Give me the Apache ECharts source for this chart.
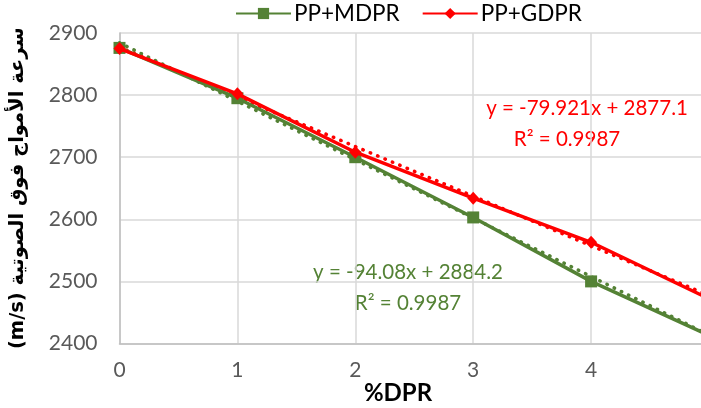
<!DOCTYPE html>
<html>
<head>
<meta charset="utf-8">
<style>
  html, body { margin: 0; padding: 0; background: #ffffff; overflow: hidden; }
  #chart { width: 722px; height: 408px; }
</style>
<script src="https://cdn.jsdelivr.net/npm/echarts@6/dist/echarts.min.js"></script>
</head>
<body>
<div id="chart"></div>
<script>
// Ultrasonic pulse velocity against DPR content for the two mixes
const dprLevels = [0, 1, 2, 3, 4, 5];
const mdprVelocity = [2876, 2795, 2700, 2603, 2500, 2413];
const gdprVelocity = [2875, 2802, 2708, 2634, 2563, 2472];

// Linear trendline coefficients [slope, intercept] and R²
const mdprTrend = [-94.08, 2884.2];
const gdprTrend = [-79.921, 2877.1];
const mdprR2 = '0.9987';
const gdprR2 = '0.9987';

const seriesNames = ['PP+MDPR', 'PP+GDPR'];
const yTicks = [2400, 2500, 2600, 2700, 2800, 2900];

const GREEN = '#548235';
const RED = '#ff0000';
const FONT = 'Lato, "Liberation Sans", sans-serif';

function pairs(xs, ys) { return xs.map((x, i) => [x, ys[i]]); }
function trendPoints(coef) {
  const x0 = dprLevels[0], x1 = dprLevels[dprLevels.length - 1];
  return [[x0, coef[0] * x0 + coef[1]], [x1, coef[0] * x1 + coef[1]]];
}
function fmt(v) { return v < 0 ? '-' + Math.abs(v) : String(v); }

const chart = echarts.init(document.getElementById('chart'), null, { renderer: 'canvas' });

const dotted = (color) => ({
  color: color, width: 3.5, type: [0.5, 7.5], cap: 'round'
});

// The plot runs past the right edge of the window, so x = 5 sits just off-screen
chart.setOption({
  animation: false,
  backgroundColor: '#ffffff',
  grid: { left: 119.5, right: 13, top: 33, bottom: 64.5, containLabel: false, outerBoundsMode: 'none' },
  legend: {
    data: seriesNames,
    left: 235, top: 2, padding: 0,
    itemWidth: 55, itemHeight: 14, itemGap: 22,
    textStyle: { fontFamily: FONT, fontSize: 22.5, color: '#000000', padding: [0, 0, 0, -2] }
  },
  xAxis: {
    type: 'value', min: 0, max: 5, interval: 1,
    axisLine: { show: true, lineStyle: { color: '#bfbfbf', width: 1.5 } },
    axisTick: { show: false },
    axisLabel: { fontFamily: FONT, fontSize: 21, color: '#595959', margin: 16 },
    splitLine: { show: true, lineStyle: { color: '#d9d9d9', width: 1.5 } }
  },
  yAxis: {
    type: 'value', min: yTicks[0], max: yTicks[yTicks.length - 1], interval: 100,
    axisLine: { show: true, lineStyle: { color: '#bfbfbf', width: 1.5 } },
    axisTick: { show: false },
    axisLabel: { fontFamily: FONT, fontSize: 21, color: '#595959', margin: 22, formatter: (v) => String(v) },
    splitLine: { show: true, lineStyle: { color: '#d9d9d9', width: 1.5 } },
    name: '(m/s) سرعة الأمواج فوق الصوتية',
    nameLocation: 'middle', nameGap: 92, nameRotate: 90,
    nameTextStyle: { fontFamily: '"DejaVu Sans", "Noto Sans", sans-serif', fontWeight: 'bold', fontSize: 19.5, color: '#000000' }
  },
  graphic: [
    { type: 'text', x: 398, y: 393, style: { text: '%DPR', fontFamily: FONT, fontWeight: 'bold', fontSize: 24, fill: '#000000', textAlign: 'center', textVerticalAlign: 'middle' } },
    { type: 'text', x: 587, y: 108, style: { text: 'y = ' + fmt(gdprTrend[0]) + 'x + ' + gdprTrend[1], fontFamily: FONT, fontSize: 20.5, fill: RED, textAlign: 'center', textVerticalAlign: 'middle' } },
    { type: 'text', x: 567, y: 139, style: { text: 'R² = ' + gdprR2, fontFamily: FONT, fontSize: 20.5, fill: RED, textAlign: 'center', textVerticalAlign: 'middle' } },
    { type: 'text', x: 408, y: 272, style: { text: 'y = ' + fmt(mdprTrend[0]) + 'x + ' + mdprTrend[1], fontFamily: FONT, fontSize: 20.5, fill: GREEN, textAlign: 'center', textVerticalAlign: 'middle' } },
    { type: 'text', x: 408, y: 303, style: { text: 'R² = ' + mdprR2, fontFamily: FONT, fontSize: 20.5, fill: GREEN, textAlign: 'center', textVerticalAlign: 'middle' } }
  ],
  series: [
    {
      name: 'MDPR trend', type: 'line', data: trendPoints(mdprTrend),
      symbol: 'none', lineStyle: dotted(GREEN), z: 1, silent: true
    },
    {
      name: 'GDPR trend', type: 'line', data: trendPoints(gdprTrend),
      symbol: 'none', lineStyle: dotted(RED), z: 1, silent: true
    },
    {
      name: seriesNames[0], type: 'line', data: pairs(dprLevels, mdprVelocity),
      symbol: 'rect', symbolSize: 12,
      itemStyle: { color: GREEN },
      lineStyle: { color: GREEN, width: 3.5 }, z: 2
    },
    {
      name: seriesNames[1], type: 'line', data: pairs(dprLevels, gdprVelocity),
      symbol: 'diamond', symbolSize: [12, 13],
      itemStyle: { color: RED },
      lineStyle: { color: RED, width: 3.5 }, z: 3
    }
  ]
});
</script>
</body>
</html>
